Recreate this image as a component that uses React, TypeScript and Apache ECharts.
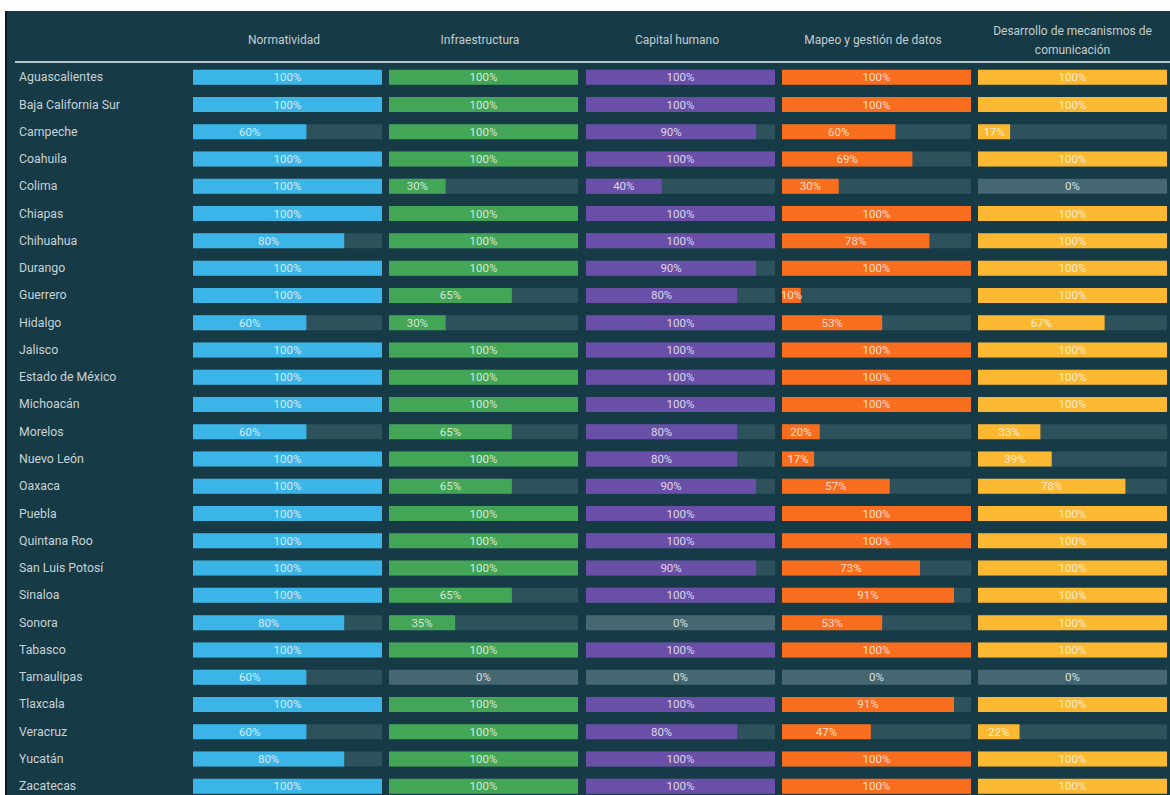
import React, { useEffect, useRef } from "react";
import * as echarts from "echarts";

const STATES = [
  "Aguascalientes", "Baja California Sur", "Campeche", "Coahuila", "Colima", "Chiapas",
  "Chihuahua", "Durango", "Guerrero", "Hidalgo", "Jalisco", "Estado de México", "Michoacán",
  "Morelos", "Nuevo León", "Oaxaca", "Puebla", "Quintana Roo", "San Luis Potosí", "Sinaloa",
  "Sonora", "Tabasco", "Tamaulipas", "Tlaxcala", "Veracruz", "Yucatán", "Zacatecas",
];

const COLUMNS = [
  "Normatividad",
  "Infraestructura",
  "Capital humano",
  "Mapeo y gestión de datos",
  "Desarrollo de mecanismos de\ncomunicación",
];

const NORMATIVIDAD = [100, 100, 60, 100, 100, 100, 80, 100, 100, 60, 100, 100, 100, 60, 100, 100, 100, 100, 100, 100, 80, 100, 60, 100, 60, 80, 100];
const INFRAESTRUCTURA = [100, 100, 100, 100, 30, 100, 100, 100, 65, 30, 100, 100, 100, 65, 100, 65, 100, 100, 100, 65, 35, 100, 0, 100, 100, 100, 100];
const CAPITAL_HUMANO = [100, 100, 90, 100, 40, 100, 100, 90, 80, 100, 100, 100, 100, 80, 80, 90, 100, 100, 90, 100, 0, 100, 0, 100, 80, 100, 100];
const MAPEO_DATOS = [100, 100, 60, 69, 30, 100, 78, 100, 10, 53, 100, 100, 100, 20, 17, 57, 100, 100, 73, 91, 53, 100, 0, 91, 47, 100, 100];
const COMUNICACION = [100, 100, 17, 100, 0, 100, 100, 100, 100, 67, 100, 100, 100, 33, 39, 78, 100, 100, 100, 100, 100, 100, 0, 100, 22, 100, 100];

const VALUES = [NORMATIVIDAD, INFRAESTRUCTURA, CAPITAL_HUMANO, MAPEO_DATOS, COMUNICACION];
const COLORS = ["#3bb5e8", "#43a556", "#6a4fa8", "#f86e1e", "#fbb830"];

const BG = "#163a46";
const TRACK = "#2e525c";
const TRACK_ZERO = "#466771";
const FONT = "Roboto, 'Noto Sans', sans-serif";

export default function App() {
  const ref = useRef<HTMLDivElement>(null);

  useEffect(() => {
    if (!ref.current) return;
    const chart = echarts.init(ref.current, undefined, { renderer: "svg" });

    const colLeft = (i: number) => Math.round(193 + 196.25 * i);
    const colWidth = 189;
    const gridTop = 63.6;
    const rowH = 27.27;
    const gridHeight = rowH * STATES.length;

    const grids: any[] = [];
    const xAxes: any[] = [];
    const yAxes: any[] = [];
    const series: any[] = [];
    const graphics: any[] = [
      { type: "rect", shape: { x: 0, y: 0, width: 1170, height: 820 }, style: { fill: "#ffffff" }, z: -10 },
      { type: "rect", shape: { x: 5, y: 11, width: 1165, height: 809 }, style: { fill: "#0b1a1f" }, z: -9 },
      { type: "rect", shape: { x: 7, y: 11, width: 1163, height: 809 }, style: { fill: BG }, z: -8 },
      { type: "rect", shape: { x: 15, y: 61, width: 1155, height: 2 }, style: { fill: "#b9c5c9" }, z: -7 },
    ];

    VALUES.forEach((vals, i) => {
      grids.push({ left: colLeft(i), top: gridTop, width: colWidth, height: gridHeight, containLabel: false });
      xAxes.push({
        type: "value", gridIndex: i, min: 0, max: 100, show: false,
      });
      yAxes.push({
        type: "category", gridIndex: i, data: STATES, inverse: true,
        axisLine: { show: false }, axisTick: { show: false }, splitLine: { show: false },
        axisLabel: {
          show: i === 0, align: "left", margin: 174, color: "#c9d2d6",
          fontSize: 12.3, fontFamily: FONT,
        },
      });
      series.push({
        type: "bar", xAxisIndex: i, yAxisIndex: i, barWidth: 15, barGap: "-100%", silent: true,
        data: vals.map((v) => ({
          value: 100,
          itemStyle: { color: v === 0 ? TRACK_ZERO : TRACK },
          label: { show: v === 0 },
        })),
        label: {
          position: "inside", formatter: "0%", color: "rgba(255,255,255,0.82)",
          fontSize: 11.5, fontFamily: FONT,
        },
        z: 1,
      });
      series.push({
        type: "bar", xAxisIndex: i, yAxisIndex: i, barWidth: 15, barGap: "-100%", silent: true,
        data: vals.map((v) => ({ value: v, label: { show: v > 0 } })),
        itemStyle: { color: COLORS[i] },
        label: {
          position: "inside", formatter: "{c}%", color: "rgba(255,255,255,0.78)",
          fontSize: 11.5, fontFamily: FONT,
        },
        z: 2,
      });
      graphics.push({
        type: "text", x: colLeft(i) + colWidth / 2 - (i < 4 ? 3.5 : 0), y: 40,
        style: {
          text: COLUMNS[i], fill: "#c3cdd1", fontSize: 12, fontFamily: FONT,
          align: "center", verticalAlign: "middle", lineHeight: 19,
        },
        z: 5,
      });
    });

    chart.setOption({
      animation: false,
      backgroundColor: "#ffffff",
      grid: grids,
      xAxis: xAxes,
      yAxis: yAxes,
      series,
      graphic: graphics,
    });

    return () => chart.dispose();
  }, []);

  return (
    <div style={{ position: "fixed", left: 0, top: 0, width: 1170, height: 795, background: "#fff", overflow: "hidden" }}>
      <div ref={ref} style={{ width: 1170, height: 820 }} />
    </div>
  );
}
